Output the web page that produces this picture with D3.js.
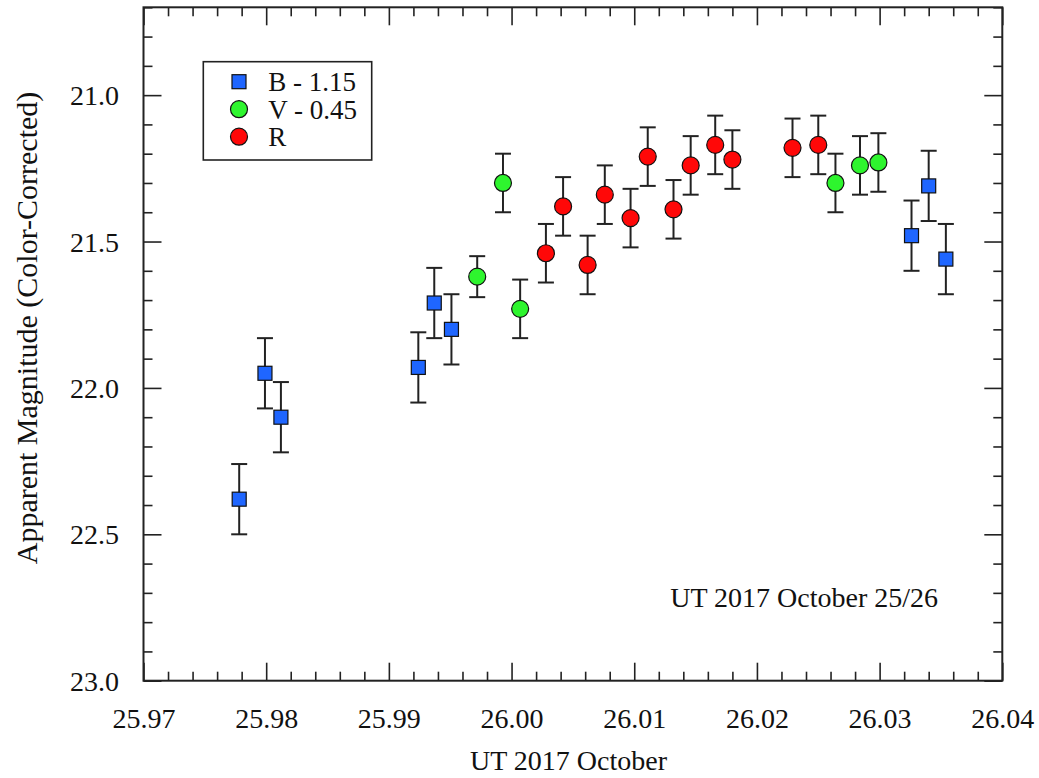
<!DOCTYPE html>
<html>
<head>
<meta charset="utf-8">
<script src="https://cdn.jsdelivr.net/npm/d3@7"></script>
<style>
  html, body { margin: 0; padding: 0; background: #fff; }
  svg { display: block; }
  text { font-family: "Liberation Serif", "Times New Roman", serif; fill: #111; }
</style>
</head>
<body>
<svg id="chart" width="1039" height="778"></svg>
<script>
// Photometry, UT 2017 October 25/26 (magnitudes colour-corrected to R)
const bTime = [25.9778, 25.9799, 25.9812, 25.9924, 25.9937, 25.9951, 26.0326, 26.0340, 26.0354];
const bMag  = [22.38, 21.95, 22.10, 21.93, 21.71, 21.80, 21.48, 21.31, 21.56];
const bErr  = [0.12, 0.12, 0.12, 0.12, 0.12, 0.12, 0.12, 0.12, 0.12];

const vTime = [25.9972, 25.9993, 26.0007, 26.0264, 26.0284, 26.0299];
const vMag  = [21.62, 21.30, 21.73, 21.30, 21.24, 21.23];
const vErr  = [0.07, 0.10, 0.10, 0.10, 0.10, 0.10];

const rTime = [26.0028, 26.0042, 26.0062, 26.0076, 26.0097, 26.0111,
               26.0132, 26.0146, 26.0166, 26.0180, 26.0229, 26.0250];
const rMag  = [21.54, 21.38, 21.58, 21.34, 21.42, 21.21,
               21.39, 21.24, 21.17, 21.22, 21.18, 21.17];
const rErr  = [0.10, 0.10, 0.10, 0.10, 0.10, 0.10,
               0.10, 0.10, 0.10, 0.10, 0.10, 0.10];

const xTickLabels = ["25.97", "25.98", "25.99", "26.00", "26.01", "26.02", "26.03", "26.04"];
const yTickLabels = ["21.0", "21.5", "22.0", "22.5", "23.0"];
const legendLabels = ["B - 1.15", "V - 0.45", "R"];

const xDomain = [25.97, 26.04];
const yDomain = [20.7, 23.0];
const xMinorStep = 0.002;
const yMinorStep = 0.1;

// ---- layout ----
const svg = d3.select("#chart");
const SERIF = '"Liberation Serif", "Times New Roman", serif';
const plot = { left: 143.5, top: 7.3, right: 1002.3, bottom: 680.7 };
const width = plot.right - plot.left;
const height = plot.bottom - plot.top;

const x = d3.scaleLinear().domain(xDomain).range([plot.left, plot.right]);
const y = d3.scaleLinear().domain(yDomain).range([plot.top, plot.bottom]);

const colors = { B: "#1f66ff", V: "#2ef52e", R: "#ff0808" };
const FONT = 28;

const xMajor = xTickLabels.map(Number);
const yMajor = yTickLabels.map(Number);
const xMinor = d3.range(Math.round((xDomain[1] - xDomain[0]) / xMinorStep) + 1)
  .map(i => xDomain[0] + i * xMinorStep)
  .filter(v => !xMajor.some(m => Math.abs(m - v) < 1e-9));
const yMinor = d3.range(Math.round((yDomain[1] - yDomain[0]) / yMinorStep) + 1)
  .map(i => yDomain[0] + i * yMinorStep)
  .filter(v => !yMajor.some(m => Math.abs(m - v) < 1e-9));

// ---- axes: inward ticks on all four sides ----
function styleAxis(g) {
  g.attr("font-family", SERIF);
  g.select(".domain").remove();
  g.selectAll(".tick line").attr("stroke", "#222").attr("stroke-width", 1.6);
}
const MAJ = 18, MIN = 9;

svg.append("g").attr("transform", `translate(0,${plot.bottom})`)
  .call(d3.axisBottom(x).tickValues(xMajor).tickSize(-MAJ).tickPadding(0)
    .tickFormat((d, i) => xTickLabels[i]))
  .call(styleAxis)
  .call(g => g.selectAll(".tick text")
    .attr("y", 47).attr("dy", null)
    .attr("font-family", SERIF).attr("font-size", FONT).attr("fill", "#111"));
svg.append("g").attr("transform", `translate(0,${plot.bottom})`)
  .call(d3.axisBottom(x).tickValues(xMinor).tickSize(-MIN).tickFormat(""))
  .call(styleAxis);

svg.append("g").attr("transform", `translate(0,${plot.top})`)
  .call(d3.axisTop(x).tickValues(xMajor).tickSize(-MAJ).tickFormat(""))
  .call(styleAxis);
svg.append("g").attr("transform", `translate(0,${plot.top})`)
  .call(d3.axisTop(x).tickValues(xMinor).tickSize(-MIN).tickFormat(""))
  .call(styleAxis);

svg.append("g").attr("transform", `translate(${plot.left},0)`)
  .call(d3.axisLeft(y).tickValues(yMajor).tickSize(-MAJ).tickPadding(24.5)
    .tickFormat((d, i) => yTickLabels[i]))
  .call(styleAxis)
  .call(g => g.selectAll(".tick text")
    .attr("x", -24.5).attr("dy", "0.34em")
    .attr("font-family", SERIF).attr("font-size", FONT).attr("fill", "#111"));
svg.append("g").attr("transform", `translate(${plot.left},0)`)
  .call(d3.axisLeft(y).tickValues(yMinor).tickSize(-MIN).tickFormat(""))
  .call(styleAxis);

svg.append("g").attr("transform", `translate(${plot.right},0)`)
  .call(d3.axisRight(y).tickValues(yMajor).tickSize(-MAJ).tickFormat(""))
  .call(styleAxis);
svg.append("g").attr("transform", `translate(${plot.right},0)`)
  .call(d3.axisRight(y).tickValues(yMinor).tickSize(-MIN).tickFormat(""))
  .call(styleAxis);

// plot frame
svg.append("rect")
  .attr("x", plot.left).attr("y", plot.top)
  .attr("width", width).attr("height", height)
  .attr("fill", "none").attr("stroke", "#222").attr("stroke-width", 2);

// ---- axis titles ----
svg.append("text")
  .attr("x", 568.5).attr("y", 770)
  .attr("text-anchor", "middle").attr("font-size", FONT)
  .attr("font-family", SERIF)
  .text("UT 2017 October");

svg.append("text")
  .attr("transform", "translate(37,328) rotate(-90)")
  .attr("text-anchor", "middle").attr("font-size", 30)
  .attr("font-family", SERIF)
  .text("Apparent Magnitude (Color-Corrected)");

svg.append("text")
  .attr("x", 938).attr("y", 607)
  .attr("text-anchor", "end").attr("font-size", FONT)
  .attr("font-family", SERIF)
  .text("UT 2017 October 25/26");

// ---- data with error bars ----
const series = [
  { key: "B", shape: "square", t: bTime, m: bMag, e: bErr },
  { key: "V", shape: "circle", t: vTime, m: vMag, e: vErr },
  { key: "R", shape: "circle", t: rTime, m: rMag, e: rErr }
];

const CAP = 8, SQ = 14, RAD = 8.5;

series.forEach(s => {
  const pts = s.t.map((t, i) => ({ t, m: s.m[i], e: s.e[i] }));
  const g = svg.append("g").attr("class", "series-" + s.key);

  const eb = g.selectAll("g.err").data(pts).join("g").attr("class", "err")
    .attr("stroke", "#222").attr("stroke-width", 2);
  eb.append("line")
    .attr("x1", d => x(d.t)).attr("x2", d => x(d.t))
    .attr("y1", d => y(d.m - d.e)).attr("y2", d => y(d.m + d.e));
  eb.append("line")
    .attr("x1", d => x(d.t) - CAP).attr("x2", d => x(d.t) + CAP)
    .attr("y1", d => y(d.m - d.e)).attr("y2", d => y(d.m - d.e));
  eb.append("line")
    .attr("x1", d => x(d.t) - CAP).attr("x2", d => x(d.t) + CAP)
    .attr("y1", d => y(d.m + d.e)).attr("y2", d => y(d.m + d.e));

  if (s.shape === "square") {
    g.selectAll("rect.mk").data(pts).join("rect").attr("class", "mk")
      .attr("x", d => x(d.t) - SQ / 2).attr("y", d => y(d.m) - SQ / 2)
      .attr("width", SQ).attr("height", SQ)
      .attr("fill", colors[s.key]).attr("stroke", "#111").attr("stroke-width", 1.2);
  } else {
    g.selectAll("circle.mk").data(pts).join("circle").attr("class", "mk")
      .attr("cx", d => x(d.t)).attr("cy", d => y(d.m)).attr("r", RAD)
      .attr("fill", colors[s.key]).attr("stroke", "#111").attr("stroke-width", 1.2);
  }
});

// ---- legend ----
const legend = svg.append("g").attr("font-family", SERIF);
legend.append("rect")
  .attr("x", 203.3).attr("y", 61.7).attr("width", 168.4).attr("height", 98.3)
  .attr("fill", "#fff").attr("stroke", "#222").attr("stroke-width", 1.6);

series.forEach((s, i) => {
  const cy = 81.7 + i * 27.5;
  if (s.shape === "square") {
    legend.append("rect")
      .attr("x", 239 - SQ / 2).attr("y", cy - SQ / 2).attr("width", SQ).attr("height", SQ)
      .attr("fill", colors[s.key]).attr("stroke", "#111").attr("stroke-width", 1.2);
  } else {
    legend.append("circle")
      .attr("cx", 239).attr("cy", cy).attr("r", RAD)
      .attr("fill", colors[s.key]).attr("stroke", "#111").attr("stroke-width", 1.2);
  }
  legend.append("text")
    .attr("x", 268.3).attr("y", cy + 9.5)
    .attr("font-size", 27)
    .attr("font-family", SERIF)
    .text(legendLabels[i]);
});
</script>
</body>
</html>
